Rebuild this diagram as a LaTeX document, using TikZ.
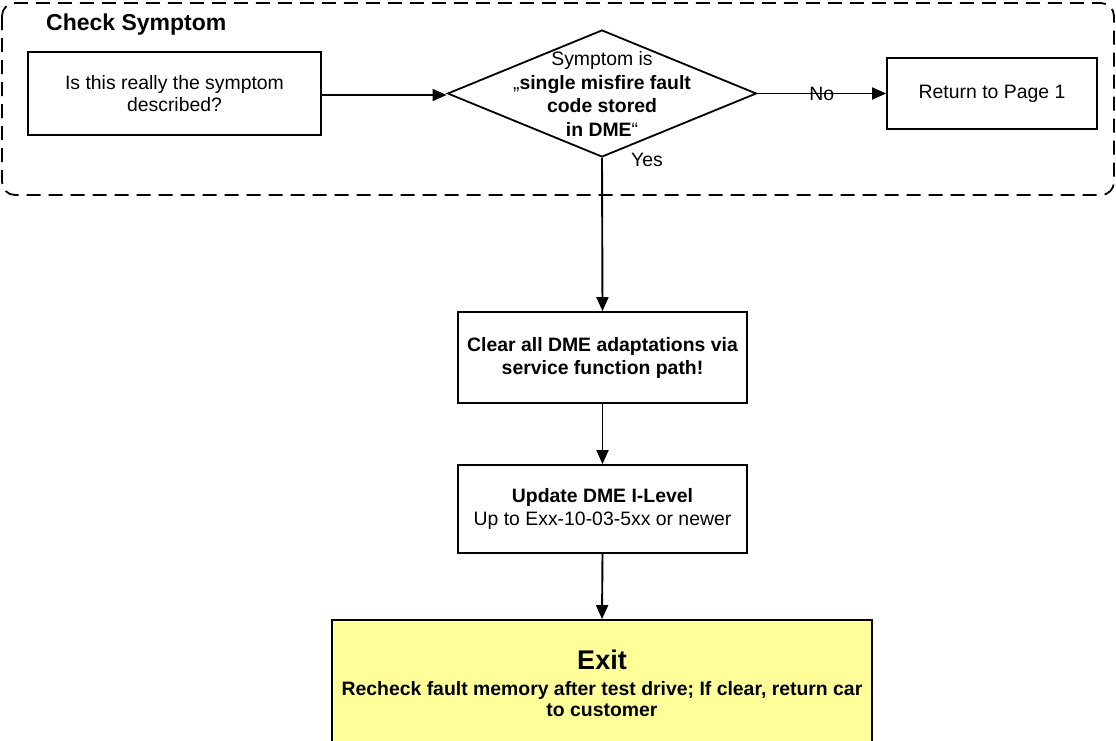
\documentclass[tikz,border=0pt]{standalone}
\usepackage{fontspec}
\setmainfont{Liberation Sans}
\usetikzlibrary{shapes.geometric,arrows.meta}
\definecolor{exitfill}{HTML}{FFFF99}
\tikzset{
  box/.style={draw=black, line width=1.8pt, fill=white, inner sep=0pt, align=center, font=\fontsize{19.4}{22}\selectfont},
  txt/.style={inner sep=0pt, align=center, font=\fontsize{19.4}{23.5}\selectfont},
  conn/.style={line width=1.9pt, -{Triangle[length=14pt,width=12pt]}},
  group/.style={draw=black, line width=1.8pt, dash pattern=on 14pt off 8pt, rounded corners=13pt},
}
\begin{document}
\begin{tikzpicture}[x=1pt,y=-1pt]
\useasboundingbox (0,0) rectangle (1116,740);
\fill[white] (0,0) rectangle (1116,740);
\clip (0,0) rectangle (1116,740);
% group
\draw[group] (2,3) rectangle (1114,195);
\node[anchor=west, inner sep=0pt, font=\fontsize{23}{26}\selectfont\bfseries] (title) at (46,25) {Check Symptom};
% nodes
\node[box, minimum width=293, minimum height=83] (q) at (174.5,93.5) {Is this really the symptom\\described?};
\node[diamond, draw=black, line width=1.8pt, minimum width=309, minimum height=127, inner sep=0pt] (dec) at (602,93.5) {};
\node[txt] (dectxt) at (602,94) {Symptom is\\„\textbf{single misfire fault}\\\textbf{code stored}\\\textbf{in DME}“};
\node[box, minimum width=210, minimum height=71] (ret) at (992,93.5) {Return to Page 1};
\node[box, minimum width=289, minimum height=91, font=\fontsize{19.4}{23}\selectfont\bfseries] (clear) at (602.5,357.5) {Clear all DME adaptations via\\service function path!};
\node[box, minimum width=289, minimum height=88, font=\fontsize{19.4}{23}\selectfont] (upd) at (602.5,509) {\textbf{Update DME I-Level}\\Up to Exx-10-03-5xx or newer};
\node[box, fill=exitfill, minimum width=540, minimum height=126, font=\fontsize{19.4}{20.5}\selectfont\bfseries] (exit) at (602,683) {{\fontsize{27}{30}\selectfont Exit}\\[6pt]Recheck fault memory after test drive; If clear, return car\\to customer};
% connectors
\draw[conn] (q.east |- 0,95) -- (dec.west |- 0,95);
\draw[conn] (dec.east) -- node[inner sep=0pt, font=\fontsize{19.4}{22}\selectfont] (no) {No} (ret.west);
\draw[conn] (dec.south) -- (clear.north);
\node[inner sep=0pt, font=\fontsize{19.4}{22}\selectfont] (yes) at (647,160) {Yes};
\draw[conn] (clear.south) -- (upd.north);
\draw[conn] (upd.south) -- (exit.north);
\end{tikzpicture}
\end{document}
